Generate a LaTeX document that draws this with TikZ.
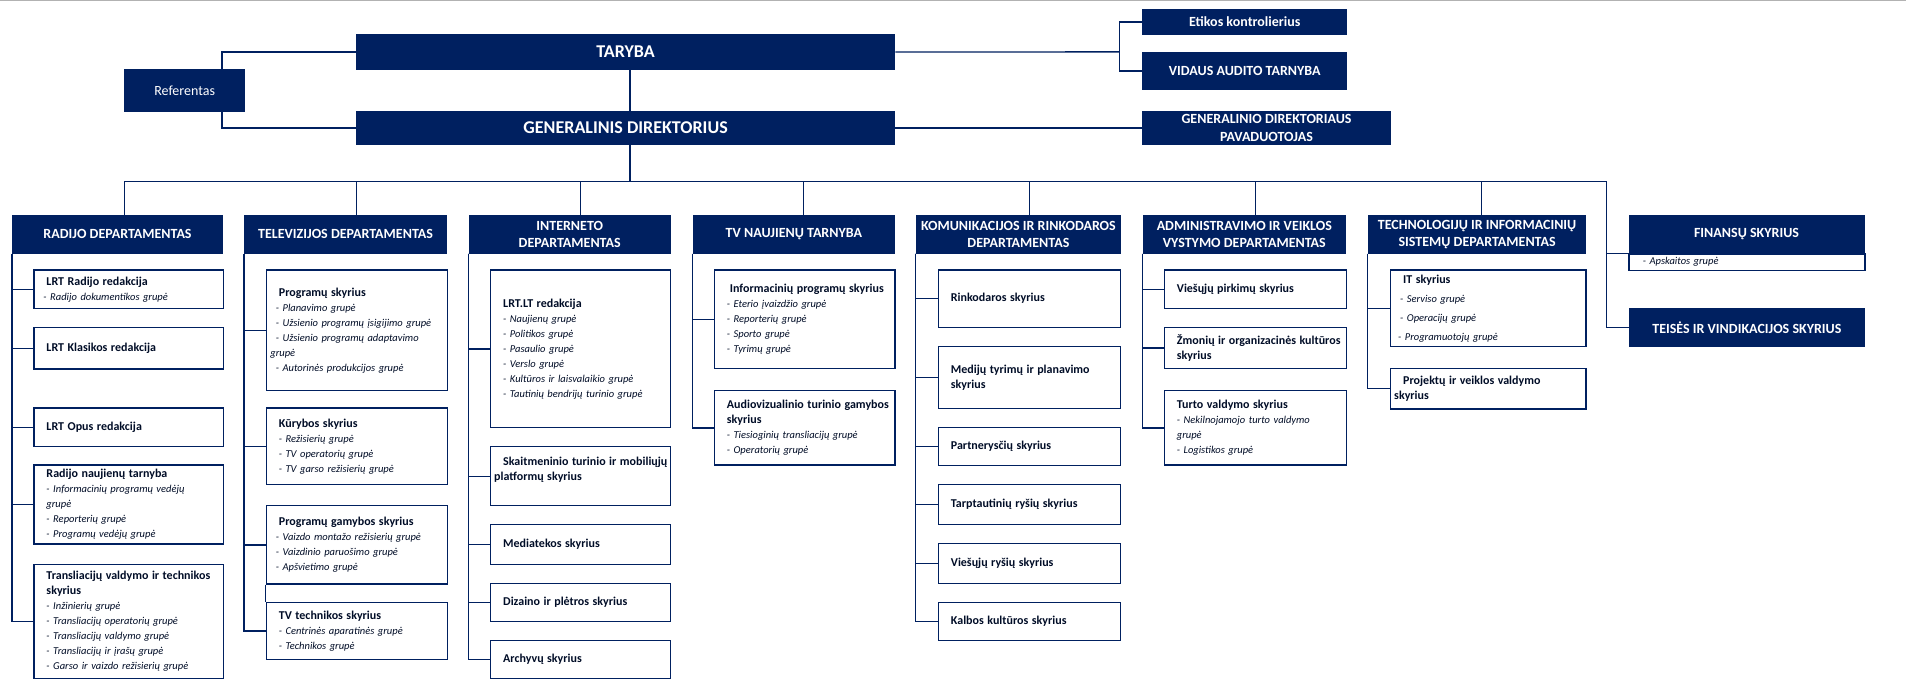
\documentclass[tikz,border=0pt]{standalone}
\usepackage{fontspec}
\setmainfont{Carlito}
\usetikzlibrary{calc}
\definecolor{navy}{RGB}{0,32,96}
\colorlet{ink}{navy!40!black}
\newcommand{\utitle}[1]{{\bfseries\fontsize{12}{15}\selectfont #1}}
\newcommand{\ugroup}[1]{{\itshape #1}}

\begin{document}
\begin{tikzpicture}[
	x=1pt, y=-1pt,
  conn/.style = {draw=navy, line width=1.3pt},
  hdr/.style = {fill=navy, text=white, anchor=north west, inner sep=0pt, align=center, font=\bfseries\fontsize{14}{17.5}\selectfont},
  toplvl/.style = {hdr, font=\bfseries\fontsize{18}{20}\selectfont},
  unitbox/.style = {draw=navy, line width=1.4pt, fill=white, text=ink, anchor=north west, inner xsep=0pt, inner ysep=0pt, align=left, font=\fontsize{10.5}{15}\selectfont, execute at begin node={\leftskip=12.5pt}}
  ]
	\useasboundingbox (0,0) rectangle (1906,699);
	\draw[gray!60, line width=1pt] (0,0.5) -- (1906,0.5);

	\coordinate (bus) at (630,181.7);
	\coordinate (busr) at (1606.7,181.7);
	\coordinate (tsplit) at (1119.3,51.85);

	% board and director
	\node[toplvl, minimum width=539.2pt, minimum height=35.7pt] (taryba) at (355.8,34) {TARYBA};
	\node[toplvl, minimum width=539.2pt, minimum height=33.7pt] (gd) at (355.8,111) {GENERALINIS DIREKTORIUS};
	\node[hdr, font=\fontsize{14}{17}\selectfont, minimum width=121pt, minimum height=42.7pt] (ref) at (124,69) {Referentas};
	\node[hdr, minimum width=205pt, minimum height=25.7pt] (etik) at (1142,9) {Etikos kontrolierius};
	\node[hdr, minimum width=205pt, minimum height=37.7pt] (vat) at (1142,52) {VIDAUS AUDITO TARNYBA};
	\node[hdr, font=\bfseries\fontsize{14}{18}\selectfont, minimum width=248.7pt, minimum height=33.7pt] (dep) at (1142,111) {GENERALINIO DIREKTORIAUS\\PAVADUOTOJAS};

	\draw[conn] (taryba.south -| bus) -- (gd.north -| bus);
	\draw[conn] (gd.south -| bus) -- (bus);
	\draw[conn] (taryba.west) -| ([xshift=37.4pt]ref.north);
	\draw[conn] (gd.west) -| ([xshift=37.4pt]ref.south);
	\draw[conn] (taryba.east) -- (tsplit);
	\draw[conn] (etik.west) -| (tsplit) |- (vat.west);
	\draw[conn] (gd.east) -- (dep.west);

	% departments
	\node[hdr, minimum width=210.7pt, minimum height=38.3pt] (radio) at (12,215) {RADIJO DEPARTAMENTAS};
	\node[hdr, minimum width=202.7pt, minimum height=38.3pt] (tv) at (244,215) {TELEVIZIJOS DEPARTAMENTAS};
	\node[hdr, minimum width=202.4pt, minimum height=38.3pt] (inet) at (468.3,215) {INTERNETO\\DEPARTAMENTAS};
	\node[hdr, minimum width=202.7pt, minimum height=38.3pt] (news) at (692.3,215) {TV NAUJIENŲ TARNYBA};
	\node[hdr, minimum width=205pt, minimum height=38.3pt] (komm) at (915.7,215) {KOMUNIKACIJOS IR RINKODAROS\\DEPARTAMENTAS};
	\node[hdr, minimum width=203.7pt, minimum height=38.3pt] (adm) at (1142.3,215) {ADMINISTRAVIMO IR VEIKLOS\\VYSTYMO DEPARTAMENTAS};
	\node[hdr, minimum width=218.2pt, minimum height=38.3pt] (tech) at (1367.8,215) {TECHNOLOGIJŲ IR INFORMACINIŲ\\SISTEMŲ DEPARTAMENTAS};
	\node[hdr, minimum width=236pt, minimum height=38.3pt] (fin) at (1628.3,215) {FINANSŲ SKYRIUS};
	\node[unitbox, line width=1.2pt, text width=236pt, minimum height=16.7pt, execute at begin node={\leftskip=14pt}] (finsub) at (1628.3,253.3) {\ugroup{- Apskaitos grupė}};
	\node[hdr, minimum width=235.3pt, minimum height=38.7pt] (teis) at (1629,308) {TEISĖS IR VINDIKACIJOS SKYRIUS};

	\foreach \d/\s in {radio/6.7, tv/10.7, inet/10.5, news/9.9, komm/10.8, adm/10.9, tech/4.1}
		\draw[conn] ([xshift=\s pt]\d.north) |- (bus);
	\draw[conn] (bus) -- (busr) |- (fin.south west);
	\draw[conn] (busr) |- (teis.west);

	% radijo
	\begin{scope}[unitbox/.append style={text width=189.4pt}]
	\node[unitbox, minimum height=38.4pt] (r1) at (33.3,269.3) {\utitle{LRT Radijo redakcija}\\\hspace*{-3pt}\ugroup{- Radijo dokumentikos grupė}};
	\node[unitbox, minimum height=41.6pt] (r2) at (33.3,326.7) {\utitle{LRT Klasikos redakcija}};
	\node[unitbox, minimum height=38.7pt] (r3) at (33.3,407.3) {\utitle{LRT Opus redakcija}};
	\node[unitbox, minimum height=79pt] (r4) at (33.3,464.3) {\utitle{Radijo naujienų tarnyba}\\\ugroup{- Informacinių programų vedėjų}\\\ugroup{grupė}\\\ugroup{- Reporterių grupė}\\\ugroup{- Programų vedėjų grupė}};
	\node[unitbox, minimum height=113.7pt] (r5) at (33.3,564) {\utitle{Transliacijų valdymo ir technikos}\\\utitle{skyrius}\\\ugroup{- Inžinierių grupė}\\\ugroup{- Transliacijų operatorių grupė}\\\ugroup{- Transliacijų valdymo grupė}\\\ugroup{- Transliacijų ir įrašų grupė}\\\ugroup{- Garso ir vaizdo režisierių grupė}};
	\end{scope}
	\foreach \b in {r1,r2,r3,r4,r5}
		\draw[conn] (radio.south west) |- (\b.west);

	% televizijos
	\begin{scope}[unitbox/.append style={text width=181pt}]
	\node[unitbox, minimum height=120.7pt] (t1) at (265.7,269.3) {\utitle{Programų skyrius}\\\hspace*{-3pt}\ugroup{- Planavimo grupė}\\\hspace*{-3pt}\ugroup{- Užsienio programų įsigijimo grupė}\\\hspace*{-3pt}\ugroup{- Užsienio programų adaptavimo}\\\hspace*{-8.5pt}\ugroup{grupė}\\\hspace*{-3pt}\ugroup{- Autorinės produkcijos grupė}};
	\node[unitbox, minimum height=76.7pt] (t2) at (265.7,407.3) {\utitle{Kūrybos skyrius}\\\ugroup{- Režisierių grupė}\\\ugroup{- TV operatorių grupė}\\\ugroup{- TV garso režisierių grupė}};
	\node[unitbox, minimum height=78.3pt] (t3) at (265.7,505) {\utitle{Programų gamybos skyrius}\\\hspace*{-3pt}\ugroup{- Vaizdo montažo režisierių grupė}\\\hspace*{-3pt}\ugroup{- Vaizdinio paruošimo grupė}\\\hspace*{-3pt}\ugroup{- Apšvietimo grupė}};
	\node[unitbox, minimum height=57.3pt] (t4) at (265.7,601.7) {\utitle{TV technikos skyrius}\\\ugroup{- Centrinės aparatinės grupė}\\\ugroup{- Technikos grupė}};
	\end{scope}
	\foreach \b in {t1,t2,t3,t4}
		\draw[conn] (tv.south west) |- (\b.west);
	\draw[draw=navy, line width=1.4pt] (t3.south west) -- (t4.north west);

	% interneto
	\begin{scope}[unitbox/.append style={text width=180pt}]
	\node[unitbox, minimum height=157.7pt] (i1) at (490,269.3) {\utitle{LRT.LT redakcija}\\\ugroup{- Naujienų grupė}\\\ugroup{- Politikos grupė}\\\ugroup{- Pasaulio grupė}\\\ugroup{- Verslo grupė}\\\ugroup{- Kultūros ir laisvalaikio grupė}\\\ugroup{- Tautinių bendrijų turinio grupė}};
	\node[unitbox, minimum height=59pt] (i2) at (490,446) {\utitle{Skaitmeninio turinio ir mobiliųjų}\\\hspace*{-9pt}\utitle{platformų skyrius}\\\mbox{}};
	\node[unitbox, minimum height=40.3pt] (i3) at (490,523.7) {\utitle{Mediatekos skyrius}};
	\node[unitbox, minimum height=38.3pt] (i4) at (490,582.7) {\utitle{Dizaino ir plėtros skyrius}};
	\node[unitbox, minimum height=37.7pt] (i5) at (490,640) {\utitle{Archyvų skyrius}};
	\end{scope}
	\foreach \b in {i1,i2,i3,i4,i5}
		\draw[conn] (inet.south west) |- (\b.west);

	% tv naujienos
	\begin{scope}[unitbox/.append style={text width=180.6pt}]
	\node[unitbox, minimum height=98.4pt] (n1) at (713.7,269.3) {\hspace*{3pt}\utitle{Informacinių programų skyrius}\\\ugroup{- Eterio įvaizdžio grupė}\\\ugroup{- Reporterių grupė}\\\ugroup{- Sporto grupė}\\\ugroup{- Tyrimų grupė}};
	\node[unitbox, minimum height=74.3pt] (n2) at (713.7,390) {\utitle{Audiovizualinio turinio gamybos}\\\utitle{skyrius}\\\ugroup{- Tiesioginių transliacijų grupė}\\\ugroup{- Operatorių grupė}};
	\end{scope}
	\foreach \b in {n1,n2}
		\draw[conn] (news.south west) |- (\b.west);

	% komunikacijos
	\begin{scope}[unitbox/.append style={text width=182.3pt}]
	\node[unitbox, minimum height=57.4pt] (k1) at (937.7,269.3) {\utitle{Rinkodaros skyrius}};
	\node[unitbox, minimum height=62pt] (k2) at (937.7,345.7) {\utitle{Medijų tyrimų ir planavimo}\\\utitle{skyrius}};
	\node[unitbox, minimum height=38.3pt] (k3) at (937.7,426.7) {\utitle{Partnerysčių skyrius}};
	\node[unitbox, minimum height=39.7pt] (k4) at (937.7,484) {\utitle{Tarptautinių ryšių skyrius}};
	\node[unitbox, minimum height=40pt] (k5) at (937.7,542.7) {\utitle{Viešųjų ryšių skyrius}};
	\node[unitbox, minimum height=38pt] (k6) at (937.7,602) {\utitle{Kalbos kultūros skyrius}};
	\end{scope}
	\foreach \b in {k1,k2,k3,k4,k5,k6}
		\draw[conn] (komm.south west) |- (\b.west);

	% administravimo
	\begin{scope}[unitbox/.append style={text width=182.3pt}]
	\node[unitbox, minimum height=38.4pt] (a1) at (1163.7,269.3) {\utitle{Viešųjų pirkimų skyrius}};
	\node[unitbox, minimum height=41pt] (a2) at (1163.7,326.7) {\utitle{Žmonių ir organizacinės kultūros}\\\utitle{skyrius}};
	\node[unitbox, minimum height=74.3pt] (a3) at (1163.7,390) {\utitle{Turto valdymo skyrius}\\\ugroup{- Nekilnojamojo turto valdymo}\\\ugroup{grupė}\\\ugroup{- Logistikos grupė}};
	\end{scope}
	\foreach \b in {a1,a2,a3}
		\draw[conn] (adm.south west) |- (\b.west);

	% technologiju
	\begin{scope}[unitbox/.append style={text width=195.3pt}]
	\node[unitbox, minimum height=76.7pt] (c1) at (1390,269.3) {\utitle{IT skyrius}\\[4pt]\hspace*{-3pt}\ugroup{- Serviso grupė}\\[4pt]\hspace*{-3pt}\ugroup{- Operacijų grupė}\\[4pt]\hspace*{-5pt}\ugroup{- Programuotojų grupė}};
	\node[unitbox, minimum height=40.6pt] (c2) at (1390,367.7) {\utitle{Projektų ir veiklos valdymo}\\\hspace*{-9pt}\utitle{skyrius}};
	\end{scope}
	\foreach \b in {c1,c2}
		\draw[conn] (tech.south west) |- (\b.west);

\end{tikzpicture}
\end{document}
